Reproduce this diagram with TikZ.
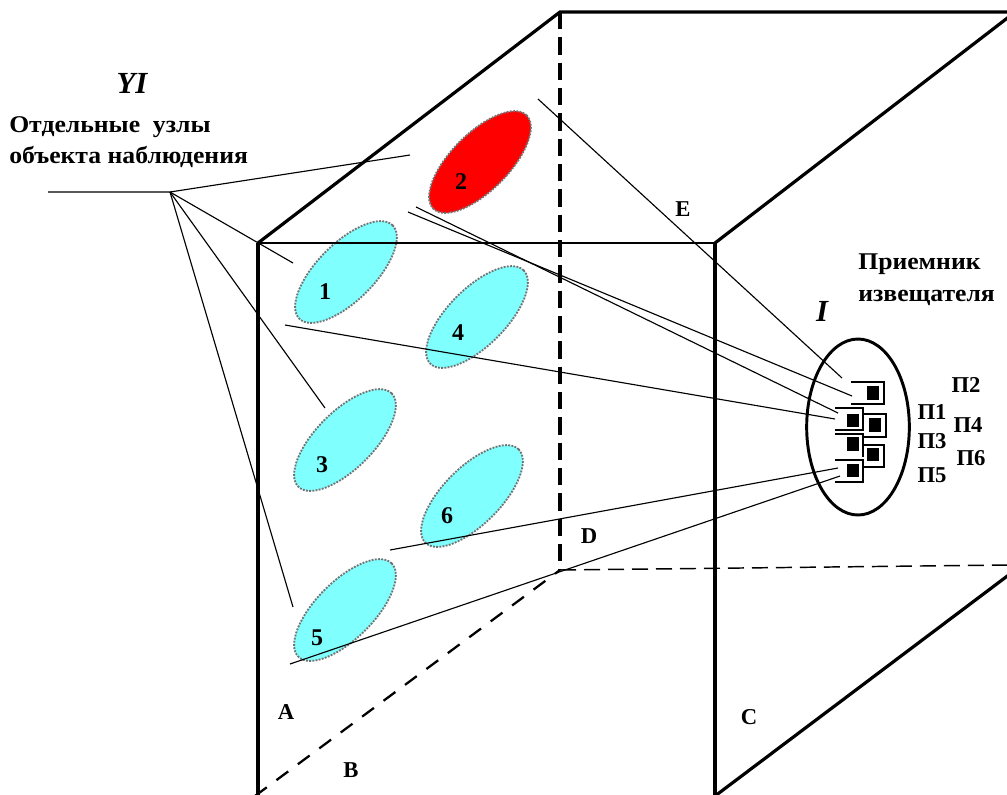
\documentclass[tikz,border=0pt]{standalone}
\usepackage{fontspec}
\setmainfont{Liberation Serif}
\newfontfamily\headfont[FakeStretch=1.07]{Liberation Serif}
\usetikzlibrary{shapes.geometric}
\tikzset{
  thinline/.style={line width=0.85pt,black},
  heavy/.style={line width=2.4pt,black},
  heavydash/.style={line width=2.3pt,black,dash pattern=on 13pt off 6pt},
  thindash/.style={line width=1.1pt,black,dash pattern=on 12pt off 6pt},
  lowdash/.style={line width=1.7pt,black,dash pattern=on 11pt off 9pt},
  blob/.style={ellipse,rotate=45,minimum width=99pt,minimum height=43pt,inner sep=0pt,draw=black!55,line width=1.4pt,densely dotted,fill=#1},
  lab/.style={inner sep=0pt,font=\fontsize{17}{17}\selectfont\bfseries},
  num/.style={inner sep=0pt,font=\fontsize{18}{18}\selectfont\bfseries},
  head/.style={inner sep=0pt,align=left,font=\headfont\fontsize{18}{23.5}\selectfont\bfseries},
  roman/.style={inner sep=0pt,font=\fontsize{23}{23}\selectfont\bfseries\itshape},
  pin/.style={inner sep=0pt,font=\fontsize{17}{17}\selectfont\bfseries},
  cell/.style={line width=0.9pt,black},
  dot/.style={fill=black,draw=none,inner sep=0pt,minimum width=9pt,minimum height=10pt},
}
\definecolor{aqua}{HTML}{80FFFF}
\begin{document}
\begin{tikzpicture}[x=0.75pt,y=-0.75pt]
\useasboundingbox (0,0) rectangle (1007,794);
\clip (0,0) rectangle (1007,794);
% box corners
\coordinate (FTL) at (258,243);
\coordinate (FTR) at (715,243);
\coordinate (FBL) at (258,796);
\coordinate (FBR) at (715,796);
\coordinate (BTL) at (560,12);
\coordinate (BTRe) at (1010,12);
\coordinate (RTe) at (1010,16);
\coordinate (BBL) at (560,570);
\coordinate (BBRe) at (1010,565);
\coordinate (RBe) at (1010,574);
\coordinate (BLe) at (255,796);
% blobs
\node[blob=red] (e2) at (480,162) {};
\node[blob=aqua] (e1) at (346,272) {};
\node[blob=aqua] (e4) at (477,317) {};
\node[blob=aqua] (e3) at (345,440) {};
\node[blob=aqua] (e6) at (472,496) {};
\node[blob=aqua] (e5) at (345,610) {};
\node[num] (n1) at (325,292) {1};
\node[num] (n2) at (461,182) {2};
\node[num] (n3) at (322,465) {3};
\node[num] (n4) at (458,333) {4};
\node[num] (n5) at (317,638) {5};
\node[num] (n6) at (447,516) {6};
% box
\draw[thinline] (FTL) -- (FTR);
\draw[heavy] (FTL) -- (FBL);
\draw[heavy] (FTR) -- (FBR);
\draw[heavy] (FTL) -- (BTL) -- (BTRe);
\draw[heavy] (FTR) -- (RTe);
\draw[heavy] (FBR) -- (RBe);
\draw[heavydash] (BTL) -- (BBL);
\draw[lowdash] (BLe) -- (BBL);
\draw[thindash] (BBL) -- (BBRe);
% leaders
\coordinate (hub) at (170,192);
\coordinate (hubS) at (48,192);
\coordinate (t2) at (410,155);
\coordinate (t1) at (293,263);
\coordinate (t3) at (325,408);
\coordinate (t5) at (293,607);
\draw[thinline] (hubS) -- (hub) -- (t2);
\draw[thinline] (hub) -- (t1);
\draw[thinline] (hub) -- (t3);
\draw[thinline] (hub) -- (t5);
% rays
\coordinate (rE0) at (538,99);   \coordinate (rE1) at (842,378);
\coordinate (rA0) at (408,212);  \coordinate (rA1) at (852,396);
\coordinate (rB0) at (416,207);  \coordinate (rB1) at (838,413);
\coordinate (rC0) at (285,325);  \coordinate (rC1) at (835,419);
\coordinate (rD0) at (390,550);  \coordinate (rD1) at (838,468);
\coordinate (rF0) at (290,664);  \coordinate (rF1) at (840,476);
\draw[thinline] (rE0) -- (rE1);
\draw[thinline] (rA0) -- (rA1);
\draw[thinline] (rB0) -- (rB1);
\draw[thinline] (rC0) -- (rC1);
\draw[thinline] (rD0) -- (rD1);
\draw[thinline] (rF0) -- (rF1);
% receiver
\node[ellipse,draw=black,line width=2.2pt,minimum width=77pt,minimum height=132pt,inner sep=0pt] (recv) at (858,427) {};
% cells
\draw[cell] (851,382) -- (884,382) -- (884,404) -- (851,404);
\draw[cell] (835,408) -- (863,408) -- (863,430) -- (835,430);
\draw[cell] (864,414) -- (886,414) -- (886,437) -- (864,437);
\draw[cell] (835,434) -- (863,434) -- (863,457);
\draw[cell] (864,445) -- (884,445) -- (884,467) -- (864,467);
\draw[cell] (835,460) -- (863,460) -- (863,482) -- (835,482);
\node[dot] (d2) at (873,393) {};
\node[dot] (d1) at (852.5,420.5) {};
\node[dot] (d4) at (875,425) {};
\node[dot] (d3) at (852.5,444) {};
\node[dot] (d6) at (873,454.5) {};
\node[dot] (d5) at (852.5,470.5) {};
% pin labels
\node[pin] (P2) at (966,385) {П2};
\node[pin] (P1) at (932,412) {П1};
\node[pin] (P4) at (968,425) {П4};
\node[pin] (P3) at (932,441) {П3};
\node[pin] (P6) at (971,458) {П6};
\node[pin] (P5) at (932,475) {П5};
% texts
\node[roman] (YI) at (132,83) {YI};
\node[roman] (I) at (822,311) {I};
\node[head,anchor=north west] (T1) at (9,116) {Отдельные\ \ узлы\\объекта наблюдения};
\node[head,anchor=north west] (T2) at (858,254) {Приемник\\извещателя};
\node[lab] (A) at (286,712) {A};
\node[lab] (B) at (351,770) {B};
\node[lab] (C) at (749,717) {C};
\node[lab] (D) at (589,536) {D};
\node[lab] (E) at (683,209) {E};
\end{tikzpicture}
\end{document}
